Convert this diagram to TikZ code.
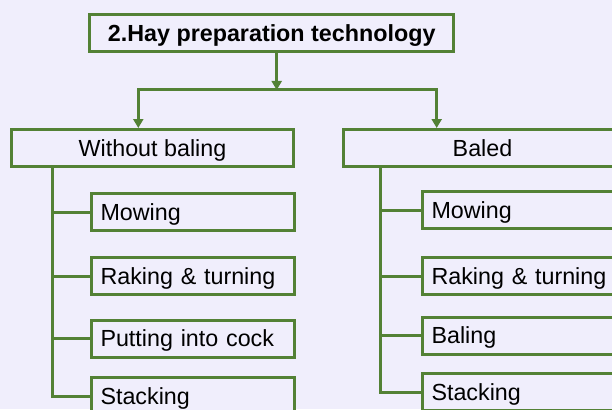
\documentclass[tikz,border=0pt]{standalone}
\usepackage{fontspec}
\setmainfont{Liberation Sans}
\usetikzlibrary{arrows.meta}
\definecolor{grn}{RGB}{83,129,53}
\definecolor{bg}{RGB}{240,238,252}
\begin{document}
\begin{tikzpicture}[x=1pt,y=-1pt,
  box/.style={draw=grn, line width=3pt, fill=bg, inner sep=0pt, minimum height=37pt,
    text height=16.7pt, text depth=0pt, font=\fontsize{23.3}{28}\selectfont},
  hdr/.style={box, align=center},
  leaf/.style={box, anchor=west, text width=184pt, align=left, inner xsep=9.5pt},
  conn/.style={draw=grn, line width=3pt},
  arr/.style={conn, -{Triangle[width=10pt,length=9pt]}}]
\fill[bg] (0,0) rectangle (612,409);
\useasboundingbox (0,0) rectangle (612,409);
\clip (0,0) rectangle (612,409);

% nodes
\node[hdr, minimum width=364pt, font=\bfseries\fontsize{23.3}{28}\selectfont] (title) at (271.7,33.5) {2.Hay preparation technology};
\node[hdr, minimum width=282pt] (wb) at (152.5,148) {Without baling};
\node[hdr, minimum width=278pt] (bd) at (482.5,148) {Baled};

\node[leaf] (l1) at (89.5,212) {Mowing};
\node[leaf] (l2) at (89.5,276) {Raking \& turning};
\node[leaf] (l3) at (89.5,338.5) {Putting into cock};
\node[leaf] (l4) at (89.5,396) {Stacking};

\node[leaf] (r1) at (420.5,210) {Mowing};
\node[leaf] (r2) at (420.5,276) {Raking \& turning};
\node[leaf] (r3) at (420.5,335.5) {Baling};
\node[leaf] (r4) at (420.5,392) {Stacking};

% coordinates
\coordinate (split) at (276.7,90);
\coordinate (lt) at (138.3,90);
\coordinate (rt) at (436.7,90);
\coordinate (lv) at (52.3,0);
\coordinate (rv) at (380.7,0);

% connectors
\draw[arr] (title.south -| split) -- (split);
\draw[arr] (split) -| (lt |- wb.north);
\draw[arr] (split) -| (rt |- bd.north);

\draw[conn] (wb.south -| lv) |- (l4.west);
\draw[conn] (lv |- l1.west) -- (l1.west);
\draw[conn] (lv |- l2.west) -- (l2.west);
\draw[conn] (lv |- l3.west) -- (l3.west);

\draw[conn] (bd.south -| rv) |- (r4.west);
\draw[conn] (rv |- r1.west) -- (r1.west);
\draw[conn] (rv |- r2.west) -- (r2.west);
\draw[conn] (rv |- r3.west) -- (r3.west);
\end{tikzpicture}
\end{document}
